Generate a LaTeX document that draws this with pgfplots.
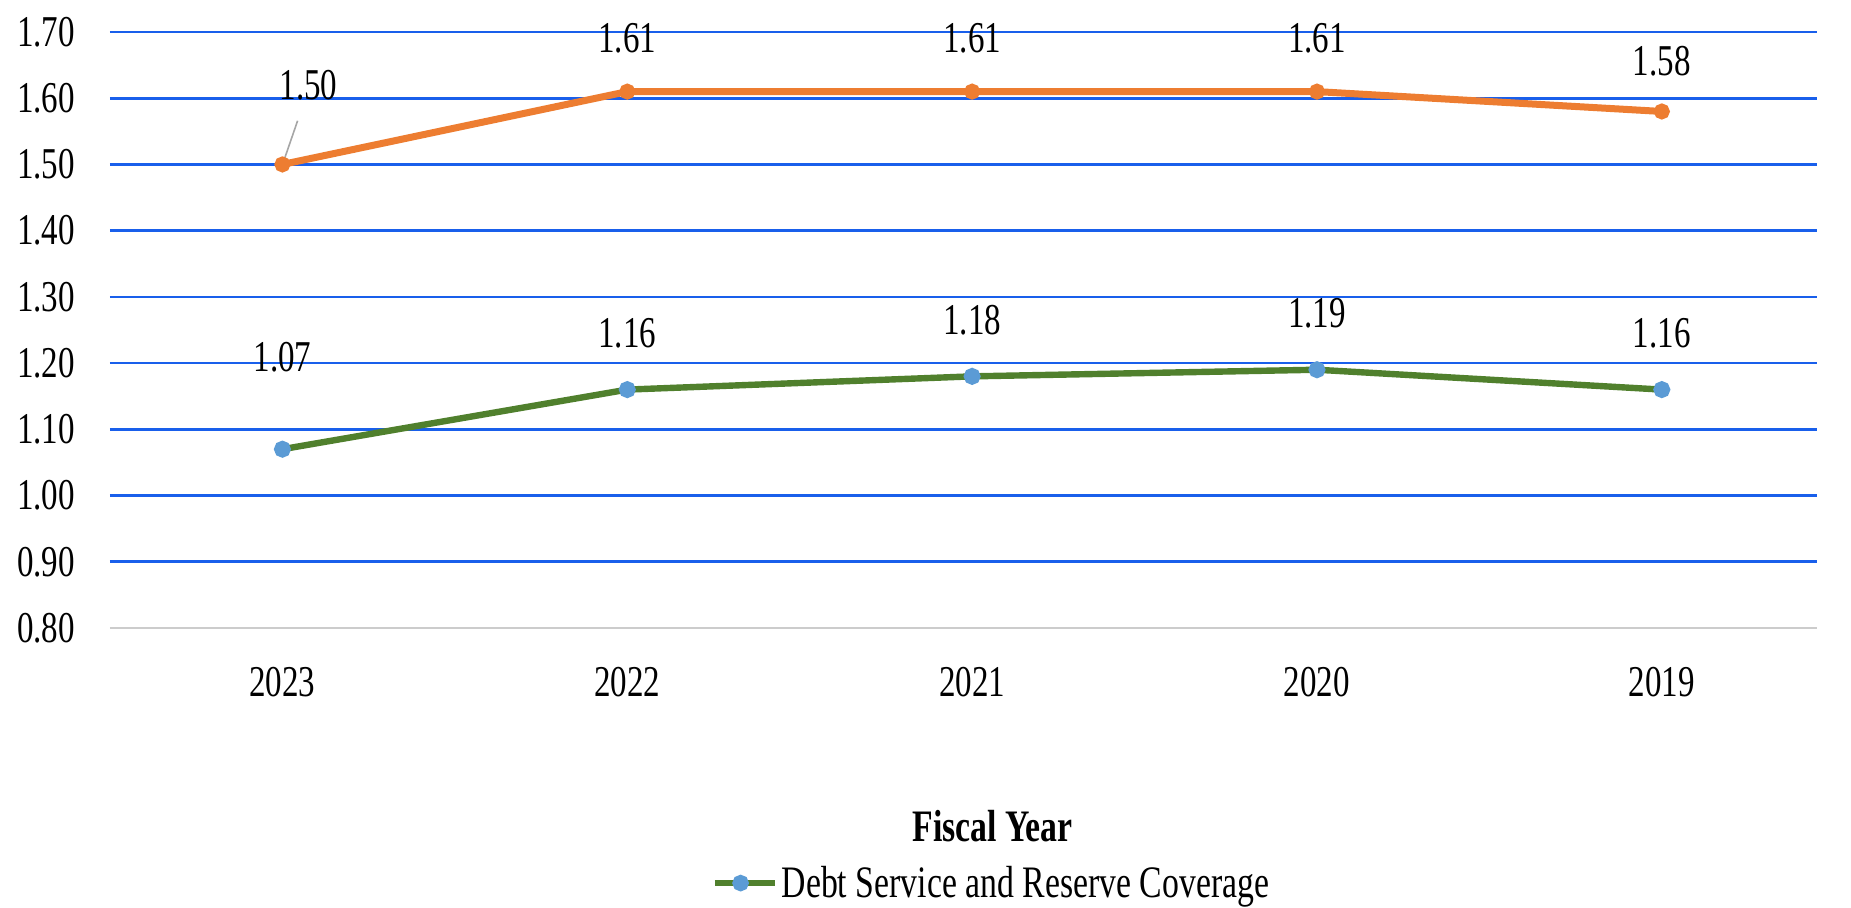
\documentclass[border=0pt]{standalone}
\usepackage{fontspec}
\setmainfont[FakeStretch=0.75]{Liberation Serif}
\usepackage{pgfplots}
\usepackage{pgfplotstable}
\pgfplotsset{compat=1.18}

\definecolor{gridblue}{RGB}{25,95,235}
\definecolor{lineorange}{RGB}{237,125,49}
\definecolor{linegreen}{RGB}{80,128,45}
\definecolor{markblue}{RGB}{91,155,213}

% x = position (0 = 2023 ... 4 = 2019), dy/dx = label offset in pt
\pgfplotstableread{
x y dy dx
0 1.07 46 0
1 1.16 28 0
2 1.18 28 0
3 1.19 28 0
4 1.16 28 0
}\coverage
\pgfplotstableread{
x y dy dx
0 1.50 39.5 13
1 1.61 26.5 0
2 1.61 26.5 0
3 1.61 26.5 0
4 1.58 25 0
}\debtonly

\newcommand{\bigfont}{\fontsize{22}{24}\selectfont}
\newcommand{\midfont}{\fontsize{22.5}{24}\selectfont}

\begin{document}
\begin{tikzpicture}
\path[use as bounding box] (-55pt,-140pt) rectangle (870.5pt,314pt);
\begin{axis}[
  scale only axis,
  width=853.5pt, height=298pt,
  xmin=-0.5, xmax=4.45,
  ymin=0.8, ymax=1.7,
  xtick={0,...,4},
  xticklabels={2023,2022,2021,2020,2019},
  ytick={0.9,1.0,...,1.71},
  extra y ticks={0.8},
  extra y tick style={grid=none},
  ymajorgrids,
  grid style={gridblue, line width=1.3pt},
  major tick length=0pt,
  axis lines*=left,
  y axis line style={draw=none},
  x axis line style={black!20, line width=1pt},
  /pgf/number format/.cd, fixed, fixed zerofill, precision=2, assume math mode=true,
  /pgfplots/.cd,
  ticklabel style={font=\bigfont},
  yticklabel style={anchor=east, xshift=-14pt},
  xticklabel style={anchor=center, yshift=-27pt},
  xlabel={\textbf{Fiscal Year}},
  xlabel style={font=\midfont, at={(axis description cs:0.517,-0.332)}, anchor=center},
  legend style={draw=none, font=\midfont, at={(0.517,-0.428)}, anchor=center,
    inner sep=1pt},
  legend image code/.code={
    \draw[linegreen, line width=3pt] (0pt,0pt) -- (1.05cm,0pt);
    \fill[markblue] (0.45cm,0pt) circle (2.5pt);
  },
  nodes near coords,
  every node near coord/.append style={font=\bigfont, text=black, anchor=center},
]
\addplot[lineorange, line width=3.5pt, mark=*, mark size=2.2pt, forget plot,
  visualization depends on={\thisrow{dy} \as \dy},
  visualization depends on={\thisrow{dx} \as \dx},
  every node near coord/.append style={yshift=\dy pt, xshift=\dx pt}]
  table[x=x, y=y] {\debtonly};
\addplot[linegreen, line width=3.2pt, mark=*, mark size=2.6pt,
  mark options={fill=markblue, draw=markblue},
  visualization depends on={\thisrow{dy} \as \dy},
  visualization depends on={\thisrow{dx} \as \dx},
  every node near coord/.append style={yshift=\dy pt, xshift=\dx pt}]
  table[x=x, y=y] {\coverage};
\addlegendentry{Debt Service and Reserve Coverage}
\draw[gray!70, line width=0.8pt] (axis cs:0.005,1.507) -- (axis cs:0.044,1.566);
\end{axis}
\end{tikzpicture}
\end{document}
